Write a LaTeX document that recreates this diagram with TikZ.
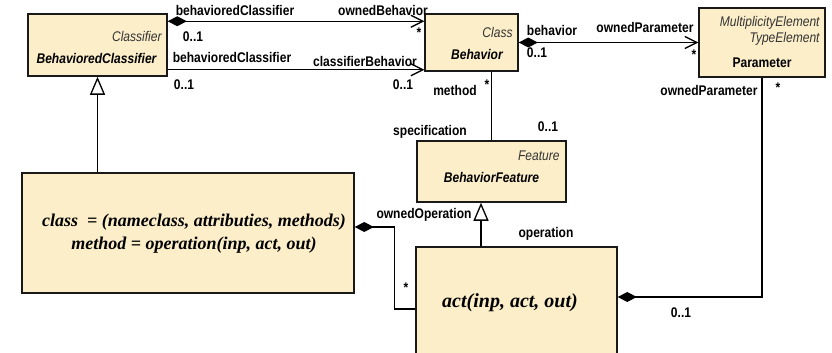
\documentclass[tikz,border=0pt]{standalone}
\usepackage{fontspec}
\setmainfont{Liberation Sans}
\newfontfamily\timesf{Liberation Serif}
\usetikzlibrary{arrows.meta,positioning}
\definecolor{boxfill}{RGB}{252, 238, 201}

\tikzset{
  umlbox/.style={draw=black!90, line width=1.5pt, fill=boxfill, inner sep=0pt},
  narrow/.style={xscale=0.86, transform shape, inner sep=0pt},
  lbl/.style={narrow, font=\fontsize{14}{16}\selectfont\bfseries},
  stereo/.style={narrow, font=\fontsize{14}{16}\selectfont\itshape, text=black!80},
  cname/.style={narrow, font=\fontsize{14}{16}\selectfont\bfseries\itshape},
  formula/.style={font=\timesf\bfseries\itshape, inner sep=0pt, align=center},
  conn/.style={line width=1.3pt},
  comp/.style={conn, {Diamond[length=19pt,width=10pt]}-},
  nav/.style={conn, -{Straight Barb[length=12pt,width=12pt]}},
  compnav/.style={conn, {Diamond[length=19pt,width=10pt]}-{Straight Barb[length=12pt,width=12pt]}},
  gen/.style={conn, -{Triangle[open, length=18pt, width=15pt, fill=white]}}
}

\begin{document}
\begin{tikzpicture}[x=1pt, y=-1pt]
  \clip (0,0) rectangle (832,353);

  % classes
  \node[umlbox, minimum width=139pt, minimum height=62pt] (bclf) at (97.5,45) {};
  \node[umlbox, minimum width=93pt, minimum height=57pt] (behav) at (471.5,42.5) {};
  \node[umlbox, minimum width=126pt, minimum height=69pt] (param) at (762,42.5) {};
  \node[umlbox, minimum width=149pt, minimum height=61pt] (bfeat) at (491.5,171.5) {};
  \node[umlbox, minimum width=332pt, minimum height=120pt] (klass) at (188,233) {};
  \node[umlbox, minimum width=201pt, minimum height=112pt] (act) at (516.5,303) {};

  \node[stereo, anchor=east] (bclfst) at ([xshift=-6pt,yshift=-23pt]bclf.north east) {Classifier};
  \node[cname] (bclfnm) at ([xshift=-1pt,yshift=-13pt]bclf.center) {BehavioredClassifier};
  \node[stereo, anchor=east] (behavst) at ([xshift=-6pt,yshift=-19pt]behav.north east) {Class};
  \node[cname] (behavnm) at ([xshift=5.5pt,yshift=-11.5pt]behav.center) {Behavior};
  \node[stereo, anchor=east] (paramst1) at ([xshift=-6pt,yshift=-16pt]param.north east) {MultiplicityElement};
  \node[stereo, anchor=east] (paramst2) at ([xshift=-6pt,yshift=-32pt]param.north east) {TypeElement};
  \node[lbl] (paramnm) at ([yshift=-20.5pt]param.center) {Parameter};
  \node[stereo, anchor=east] (bfeatst) at ([xshift=-7pt,yshift=-16pt]bfeat.north east) {Feature};
  \node[cname] (bfeatnm) at ([yshift=-5.5pt]bfeat.center) {BehaviorFeature};
  \node[formula, font=\timesf\bfseries\itshape\fontsize{18}{23}\selectfont] (klasstx) at ([xshift=6pt,yshift=-0.5pt]klass.center)
    {class \ = (nameclass, attributies, methods)\\method = operation(inp, act, out)};
  \node[formula, font=\timesf\bfseries\itshape\fontsize{20}{24}\selectfont] (acttx) at ([xshift=-6.5pt]act.center) {act(inp, act, out)};

  % connectors
  \draw[compnav] ([yshift=-8pt]bclf.north east) -- ([yshift=-8pt]bclf.north east -| behav.west);
  \draw[nav] ([yshift=7pt]bclf.south east) -- ([yshift=7pt]bclf.south east -| behav.west);
  \draw[compnav] (behav.east) -- (behav.east -| param.west);
  \draw[conn] (bfeat.north |- behav.south) -- (bfeat.north);
  \draw[gen] (klass.north -| bclf.south) -- (bclf.south);
  \coordinate (gtip) at ([xshift=-10.5pt]bfeat.south);
  \draw[gen] (gtip |- act.north) -- (gtip);
  \draw[comp] ([yshift=6pt]klass.east) -- ++(40,0) |- ([yshift=-6pt]act.west);
  \draw[comp] ([yshift=6pt]act.east) -| (param.south);

  % role names and multiplicities
  \node[lbl] (r1) at (235,10) {behavioredClassifier};
  \node[lbl] (m1) at (193,37) {0..1};
  \node[lbl] (r2) at (383,10) {ownedBehavior};
  \node[lbl] (m2) at (419,33) {*};
  \node[lbl] (r3) at (232,57) {behavioredClassifier};
  \node[lbl] (r4) at (365,61) {classifierBehavior};
  \node[lbl] (m3) at (184,85) {0..1};
  \node[lbl] (m4) at (403,85) {0..1};
  \node[lbl] (r5) at (552,30) {behavior};
  \node[lbl] (r6) at (645,27) {ownedParameter};
  \node[lbl] (m5) at (537,53) {0..1};
  \node[lbl] (m6) at (694,55) {*};
  \node[lbl] (r7) at (709,90) {ownedParameter};
  \node[lbl] (m7) at (778,88) {*};
  \node[lbl] (r8) at (455,90) {method};
  \node[lbl] (m8) at (487,85) {*};
  \node[lbl] (r9) at (430,132) {specification};
  \node[lbl] (m9) at (548,127) {0..1};
  \node[lbl] (r10) at (424,215) {ownedOperation};
  \node[lbl] (r11) at (546,234) {operation};
  \node[lbl] (m10) at (406,288) {*};
  \node[lbl] (m11) at (681,313) {0..1};
\end{tikzpicture}
\end{document}
